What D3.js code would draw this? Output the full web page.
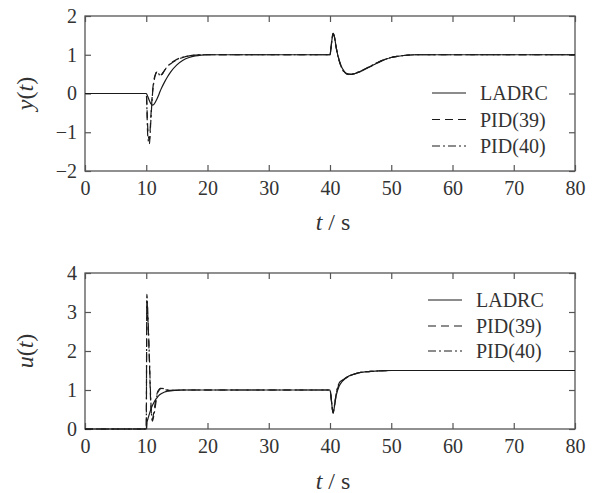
<!DOCTYPE html>
<html><head><meta charset="utf-8">
<script src="https://cdn.jsdelivr.net/npm/d3@7"></script>
</head>
<body style="margin:0;padding:0;background:#fff;"><svg id="c" width="596" height="493" style="display:block;font-family:'Liberation Serif'"></svg>
<script>
// ---------- data ----------
const seriesNames = ["LADRC", "PID(39)", "PID(40)"];
const xTicks = [0, 10, 20, 30, 40, 50, 60, 70, 80];
const yTicksTop = [-2, -1, 0, 1, 2];
const yTicksBottom = [0, 1, 2, 3, 4];

// top plot: y(t)
const tTop = [0, 10, 10.25, 10.5, 10.75, 11, 11.25, 11.5, 11.75, 12, 12.25, 12.5, 13, 13.5, 14, 15, 16, 17, 18, 19, 20, 22, 25, 30, 40, 40.25, 40.5, 40.75, 41, 41.5, 42, 42.5, 43, 43.5, 44, 45, 46, 47, 48, 49, 50, 51, 52, 54, 56, 60, 70, 80];
const yLADRC = [0, 0, -0.08, -0.18, -0.26, -0.30, -0.28, -0.22, -0.14, -0.05, 0.05, 0.14, 0.30, 0.44, 0.56, 0.74, 0.86, 0.93, 0.97, 0.99, 1.0, 1.0, 1.0, 1.0, 1.0, 1.30, 1.55, 1.45, 1.20, 0.85, 0.65, 0.54, 0.50, 0.49, 0.51, 0.57, 0.65, 0.73, 0.81, 0.88, 0.93, 0.96, 0.98, 1.0, 1.0, 1.0, 1.0, 1.0];
const yPID39 = [0, 0, -0.90, -1.20, -0.60, 0.00, 0.35, 0.50, 0.55, 0.50, 0.47, 0.49, 0.60, 0.70, 0.77, 0.87, 0.93, 0.97, 0.99, 1.0, 1.0, 1.0, 1.0, 1.0, 1.0, 1.30, 1.53, 1.44, 1.20, 0.86, 0.64, 0.53, 0.49, 0.48, 0.51, 0.57, 0.65, 0.73, 0.81, 0.88, 0.93, 0.96, 0.98, 1.0, 1.0, 1.0, 1.0, 1.0];
const yPID40 = [0, 0, -1.10, -1.30, -0.70, -0.05, 0.30, 0.48, 0.56, 0.52, 0.46, 0.48, 0.60, 0.71, 0.78, 0.88, 0.94, 0.97, 0.99, 1.0, 1.0, 1.0, 1.0, 1.0, 1.0, 1.32, 1.55, 1.44, 1.19, 0.84, 0.63, 0.52, 0.50, 0.50, 0.52, 0.58, 0.66, 0.74, 0.82, 0.88, 0.93, 0.96, 0.98, 1.0, 1.0, 1.0, 1.0, 1.0];

// bottom plot: u(t)
const tBot = [0, 10, 10.1, 10.25, 10.5, 10.75, 11, 11.25, 11.5, 11.75, 12, 12.5, 13, 13.5, 14, 15, 16, 18, 20, 30, 40, 40.25, 40.5, 40.75, 41, 41.5, 42, 43, 44, 45, 46, 47, 48, 50, 52, 55, 60, 70, 80];
const uLADRC = [0, 0, 0.15, 0.25, 0.38, 0.50, 0.60, 0.68, 0.75, 0.80, 0.85, 0.91, 0.95, 0.97, 0.98, 0.99, 1.0, 1.0, 1.0, 1.0, 1.0, 0.70, 0.40, 0.60, 0.85, 1.10, 1.22, 1.35, 1.41, 1.45, 1.47, 1.48, 1.49, 1.5, 1.5, 1.5, 1.5, 1.5, 1.5];
const uPID39 = [0, 0, 3.35, 2.90, 1.80, 0.60, 0.25, 0.45, 0.70, 0.90, 1.00, 1.05, 1.02, 0.99, 0.99, 1.0, 1.0, 1.0, 1.0, 1.0, 1.0, 0.70, 0.42, 0.62, 0.88, 1.15, 1.24, 1.35, 1.41, 1.45, 1.47, 1.48, 1.49, 1.5, 1.5, 1.5, 1.5, 1.5, 1.5];
const uPID40 = [0, 0, 3.45, 3.00, 1.90, 0.70, 0.20, 0.35, 0.60, 0.85, 0.97, 1.04, 1.03, 1.00, 0.99, 1.0, 1.0, 1.0, 1.0, 1.0, 1.0, 0.72, 0.43, 0.63, 0.90, 1.18, 1.25, 1.35, 1.41, 1.45, 1.47, 1.48, 1.49, 1.5, 1.5, 1.5, 1.5, 1.5, 1.5];

// ---------- drawing ----------
const svg = d3.select("#c");
const dashes = [null, "8,5", "8,3,2,3"];
const inkLine = "#1a1a1a", inkText = "#333", inkAxis = "#555";
const fontFam = "'Liberation Serif'";

function panel(cfg) {
  const x = d3.scaleLinear().domain([0, 80]).range([85, 575]);
  const y = d3.scaleLinear().domain(cfg.yDomain).range([cfg.bottom, cfg.top]);
  const g = svg.append("g");

  const ax = [
    g.append("g").attr("transform", `translate(0,${cfg.bottom})`).call(d3.axisBottom(x).tickValues(xTicks).tickSize(-6).tickPadding(10).tickFormat(d3.format("d"))),
    g.append("g").attr("transform", `translate(0,${cfg.top})`).call(d3.axisTop(x).tickValues(xTicks).tickSize(-6).tickFormat("")),
    g.append("g").attr("transform", `translate(85,0)`).call(d3.axisLeft(y).tickValues(cfg.yTicks).tickSize(-6).tickPadding(8).tickFormat(d3.format("d"))),
    g.append("g").attr("transform", `translate(575,0)`).call(d3.axisRight(y).tickValues(cfg.yTicks).tickSize(-6).tickFormat(""))
  ];
  ax.forEach(a => {
    a.attr("font-family", null).attr("font-size", null);
    a.select(".domain").remove();
    a.selectAll("line").attr("stroke", inkAxis).attr("stroke-width", 1.2);
    a.selectAll("text").attr("fill", inkText).style("font-size", "20px").style("font-family", fontFam);
  });
  g.append("rect").attr("x", 85).attr("y", cfg.top).attr("width", 490).attr("height", cfg.bottom - cfg.top)
    .attr("fill", "none").attr("stroke", inkAxis).attr("stroke-width", 1.3);

  const line = d3.line().x((d, i) => x(cfg.t[i])).y(d => y(d)).curve(d3.curveMonotoneX);
  cfg.series.forEach((s, k) => {
    g.append("path").attr("d", line(s)).attr("fill", "none").attr("stroke", inkLine)
      .attr("stroke-width", 1.2).attr("stroke-dasharray", dashes[k]);
  });

  seriesNames.forEach((n, k) => {
    const yy = cfg.legY[k];
    g.append("line").attr("x1", cfg.legX).attr("x2", cfg.legX + 34).attr("y1", yy).attr("y2", yy)
      .attr("stroke", inkLine).attr("stroke-width", 1.2).attr("stroke-dasharray", dashes[k]);
    g.append("text").attr("x", cfg.legX + 48).attr("y", yy + 7)
      .attr("fill", inkText).style("font-family", fontFam).style("font-size", "20px").text(n);
  });

  const yl = g.append("text").attr("transform", `translate(33,${(cfg.top + cfg.bottom) / 2}) rotate(-90)`)
    .attr("text-anchor", "middle").attr("fill", inkText).style("font-family", fontFam).style("font-size", "24px");
  yl.append("tspan").style("font-style", "italic").text(cfg.yName);
  yl.append("tspan").text("(");
  yl.append("tspan").style("font-style", "italic").text("t");
  yl.append("tspan").text(")");

  const xl = g.append("text").attr("x", 333).attr("y", cfg.xLabelY).attr("text-anchor", "middle")
    .attr("fill", inkText).style("font-family", fontFam).style("font-size", "24px");
  xl.append("tspan").style("font-style", "italic").text("t");
  xl.append("tspan").text(" / s");
}

panel({ top: 16, bottom: 171, yDomain: [-2, 2], yTicks: yTicksTop, t: tTop,
  series: [yLADRC, yPID39, yPID40], legX: 432, legY: [93, 119.5, 146], yName: "y", xLabelY: 230 });
panel({ top: 273, bottom: 429, yDomain: [0, 4], yTicks: yTicksBottom, t: tBot,
  series: [uLADRC, uPID39, uPID40], legX: 428, legY: [300, 326, 351], yName: "u", xLabelY: 489 });
</script></body></html>
